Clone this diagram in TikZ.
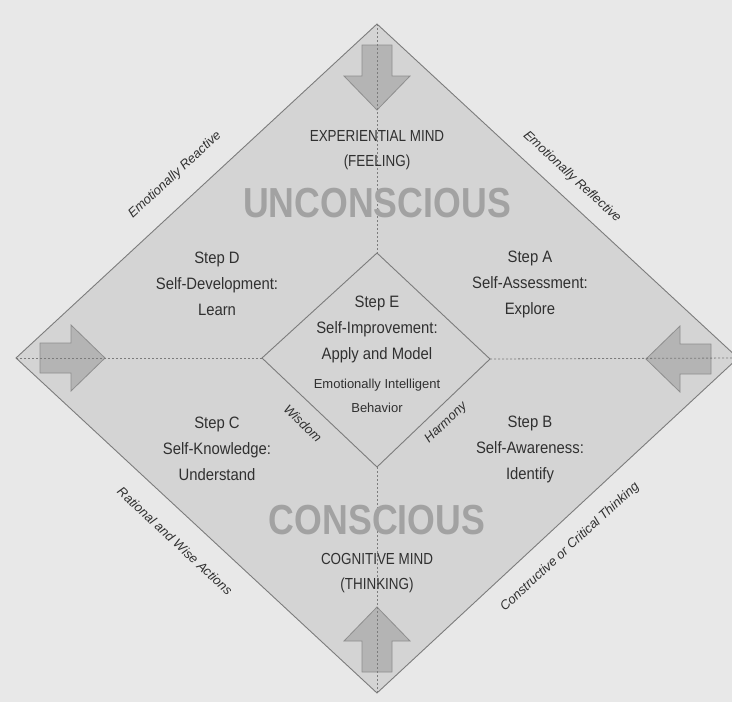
\documentclass[tikz,border=0pt]{standalone}
\usepackage{fontspec}
\setmainfont{Liberation Sans}
\newfontfamily\capsfont{Liberation Sans}[FakeStretch=0.84]
\newfontfamily\stepsfont{Liberation Sans}[FakeStretch=0.9]
\newfontfamily\bigfont{Liberation Sans}[FakeStretch=0.85]
\usetikzlibrary{calc}
\definecolor{PageColor}{HTML}{E8E8E8}
\definecolor{DiamondFill}{HTML}{D4D4D4}
\definecolor{ArrowFill}{HTML}{B4B4B4}
\definecolor{ArrowEdge}{HTML}{8E8E8E}
\definecolor{EdgeColor}{HTML}{7C7C7C}
\definecolor{InkColor}{HTML}{303030}
\definecolor{FadedInk}{HTML}{A2A2A2}
\tikzstyle{diamond_area}=[fill=DiamondFill, draw=EdgeColor, line width=0.9pt, line join=miter]
\tikzstyle{dotted_line}=[draw=EdgeColor, line width=0.8pt, dash pattern=on 2pt off 2pt]
\tikzstyle{big_arrow}=[fill=ArrowFill, draw=ArrowEdge, line width=0.8pt]
\tikzstyle{mind_label}=[text=InkColor, align=center, inner sep=0pt,
        font=\capsfont\fontsize{16}{25}\selectfont]
\tikzstyle{step_label}=[text=InkColor, align=center, inner sep=0pt,
        font=\stepsfont\fontsize{16.5}{26}\selectfont]
\tikzstyle{small_label}=[text=InkColor, align=center, inner sep=0pt,
        font=\fontsize{13}{24}\selectfont]
\tikzstyle{edge_label}=[text=InkColor, inner sep=0pt,
        font=\itshape\fontsize{13}{15}\selectfont]
\tikzstyle{zone_label}=[text=FadedInk, inner sep=0pt,
        font=\bigfont\bfseries\fontsize{42}{42}\selectfont]

\begin{document}
\begin{tikzpicture}[x=1pt, y=-1pt]
    \useasboundingbox (0,0) rectangle (732,702);
    \fill[PageColor] (0,0) rectangle (732,702);
    \clip (0,0) rectangle (732,702);

    \coordinate [] (top) at (377,24);
    \coordinate [] (left) at (16,358);
    \coordinate [] (bottom) at (377,693);
    \coordinate [] (right) at (738,358);
    \coordinate [] (itop) at (377,253);
    \coordinate [] (ileft) at (262,358);
    \coordinate [] (ibottom) at (377,467);
    \coordinate [] (iright) at (490,359);

    \draw[diamond_area] (top) -- (right) -- (bottom) -- (left) -- cycle;
    \draw[diamond_area] (itop) -- (iright) -- (ibottom) -- (ileft) -- cycle;

    \foreach \px/\py/\ang in {377/110/0, 377/607/180, 105/358/90, 646/359/-90} {
        \draw[big_arrow, shift={(\px,\py)}, rotate=\ang]
            (0,0) -- (33,-34) -- (15,-34) -- (15,-65) -- (-15,-65) -- (-15,-34) -- (-33,-34) -- cycle;
    }

    \draw[dotted_line] (top) -- (itop);
    \draw[dotted_line] (ibottom) -- (bottom);
    \draw[dotted_line] (left) -- (ileft);
    \draw[dotted_line] (iright) -- (right);

    \node at (377,150) (feeling) [mind_label] {EXPERIENTIAL MIND\\(FEELING)};
    \node at (377,573) (thinking) [mind_label] {COGNITIVE MIND\\(THINKING)};
    \node at (377,203) (unconscious) [zone_label] {UNCONSCIOUS};
    \node at (377,520) (conscious) [zone_label] {CONSCIOUS};

    \node at (217,284) (stepD) [step_label] {Step D\\Self-Development:\\Learn};
    \node at (530,284) (stepA) [step_label] {Step A\\Self-Assessment:\\Explore};
    \node at (377,329) (stepE) [step_label] {Step E\\Self-Improvement:\\Apply and Model};
    \node at (377,396) (behavior) [small_label] {Emotionally Intelligent\\Behavior};
    \node at (217,449) (stepC) [step_label] {Step C\\Self-Knowledge:\\Understand};
    \node at (530,449) (stepB) [step_label] {Step B\\Self-Awareness:\\Identify};

    \node at (175,175) (reactive) [edge_label, rotate=42.8] {Emotionally Reactive};
    \node at (572,177) (reflective) [edge_label, rotate=-42.8] {Emotionally Reflective};
    \node at (175,541) (rational) [edge_label, rotate=-43] {Rational and Wise Actions};
    \node at (570,547) (critical) [edge_label, rotate=42.7] {Constructive or Critical Thinking};
    \node at (303,423) (wisdom) [edge_label, rotate=-43.5] {Wisdom};
    \node at (446,423) (harmony) [edge_label, rotate=43.7] {Harmony};
\end{tikzpicture}
\end{document}
